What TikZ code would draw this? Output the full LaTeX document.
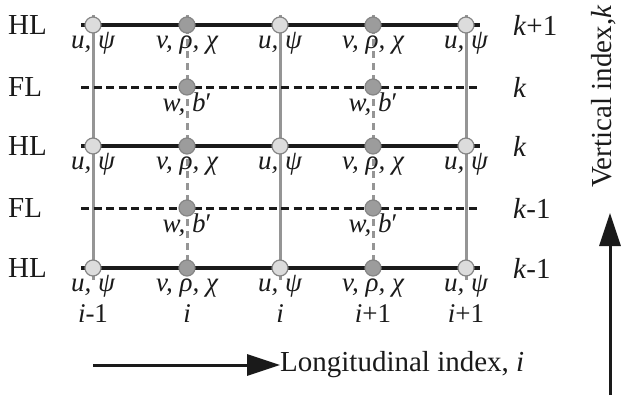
\documentclass[tikz,border=0pt]{standalone}
\usepackage{fontspec}
\setmainfont{Liberation Serif}
\usetikzlibrary{arrows.meta}
\definecolor{txt}{HTML}{1A1A1A}
\definecolor{gline}{HTML}{959595}
\definecolor{cedge}{HTML}{858585}
\definecolor{clight}{HTML}{DCDCDC}
\definecolor{cdark}{HTML}{9C9C9C}
\begin{document}
\begin{tikzpicture}[x=1pt,y=-1pt,
  every node/.style={font=\fontsize{29}{34}\selectfont, text=txt, inner sep=0pt},
  hl/.style={draw=txt, line width=3.4pt},
  fl/.style={draw=txt, line width=3pt, dash pattern=on 8pt off 4.5pt},
  gsolid/.style={draw=gline, line width=3pt},
  gdash/.style={draw=gline, line width=3pt, dash pattern=on 7pt off 5pt},
  upt/.style={circle, draw=cedge, line width=1.2pt, fill=clight, minimum size=16pt},
  vpt/.style={circle, draw=cedge, line width=1.2pt, fill=cdark, minimum size=16pt},
  wpt/.style={circle, draw=cedge, line width=1.2pt, fill=cdark, minimum size=16pt},
  lab/.style={anchor=base, font=\fontsize{27}{32}\selectfont},
  bigarrow/.style={draw=txt, line width=3pt, -{Triangle[length=33pt,width=21pt]}}
]
\useasboundingbox (0,0) rectangle (622,397);

% vertical line end points
\foreach \c/\x in {a/93,b/187,c/280,d/373,e/466}{
  \coordinate (\c top) at (\x,15);
  \coordinate (\c bot) at (\x,280);
}
% horizontal line end points
\foreach \r/\y in {h1/25,f1/87,h2/146,f2/208,h3/268}{
  \coordinate (\r L) at (81,\y);
  \coordinate (\r R) at (480,\y);
}

% vertical lines
\draw[gsolid] (atop) -- (abot);
\draw[gsolid] (ctop) -- (cbot);
\draw[gsolid] (etop) -- (ebot);
\draw[gdash] (btop) -- (bbot);
\draw[gdash] (dtop) -- (dbot);

% horizontal lines
\draw[hl] (h1L) -- (h1R);
\draw[hl] (h2L) -- (h2R);
\draw[hl] (h3L) -- (h3R);
\draw[fl] (f1L) -- (f1R);
\draw[fl] (f2L) -- (f2R);

% points and labels on HL rows
\foreach \r/\y in {h1/25,h2/146,h3/268}{
  \foreach \c/\x in {a/93,c/280,e/466}{
    \node[upt] (\r\c) at (\x,\y) {};
    \node[lab] (\r\c lab) at (\x,\y+23) {\itshape u,\ ψ};
  }
  \foreach \c/\x in {b/187,d/373}{
    \node[vpt] (\r\c) at (\x,\y) {};
    \node[lab] (\r\c lab) at (\x,\y+23) {\itshape v, ρ, χ};
  }
}
% points on FL rows
\foreach \r/\y in {f1/87,f2/208}{
  \foreach \c/\x in {b/187,d/373}{
    \node[wpt] (\r\c) at (\x,\y) {};
    \node[lab] (\r\c lab) at (\x,\y+24) {\itshape w,\ b\/\upshape ′};
  }
}

% left labels
\node[anchor=west] (lh1) at (8,25) {HL};
\node[anchor=west] (lf1) at (8,87) {FL};
\node[anchor=west] (lh2) at (8,146) {HL};
\node[anchor=west] (lf2) at (8,208) {FL};
\node[anchor=west] (lh3) at (8,268) {HL};

% right labels
\node[anchor=west] (rh1) at (513,25) {\textit{k}+1};
\node[anchor=west] (rf1) at (513,87) {\textit{k}};
\node[anchor=west] (rh2) at (513,146) {\textit{k}};
\node[anchor=west] (rf2) at (513,208) {\textit{k}-1};
\node[anchor=west] (rh3) at (513,268) {\textit{k}-1};

% bottom index labels
\node[lab] (ia) at (93,322) {\textit{i}-1};
\node[lab] (ib) at (187,322) {\textit{i}};
\node[lab] (ic) at (280,322) {\textit{i}};
\node[lab] (id) at (373,322) {\textit{i}+1};
\node[lab] (ie) at (466,322) {\textit{i}+1};

% longitudinal axis
\coordinate (lstart) at (93,365);
\node[anchor=west] (ltext) at (280,365) {Longitudinal index, \textit{i}};
\draw[bigarrow] (lstart) -- (ltext.west);

% vertical axis
\coordinate (vstart) at (610,395);
\coordinate (vend) at (610,213);
\draw[bigarrow] (vstart) -- (vend);
\node[rotate=90, anchor=base west] (vtext) at (611,188) {Vertical index,\textit{k}};
\end{tikzpicture}
\end{document}
